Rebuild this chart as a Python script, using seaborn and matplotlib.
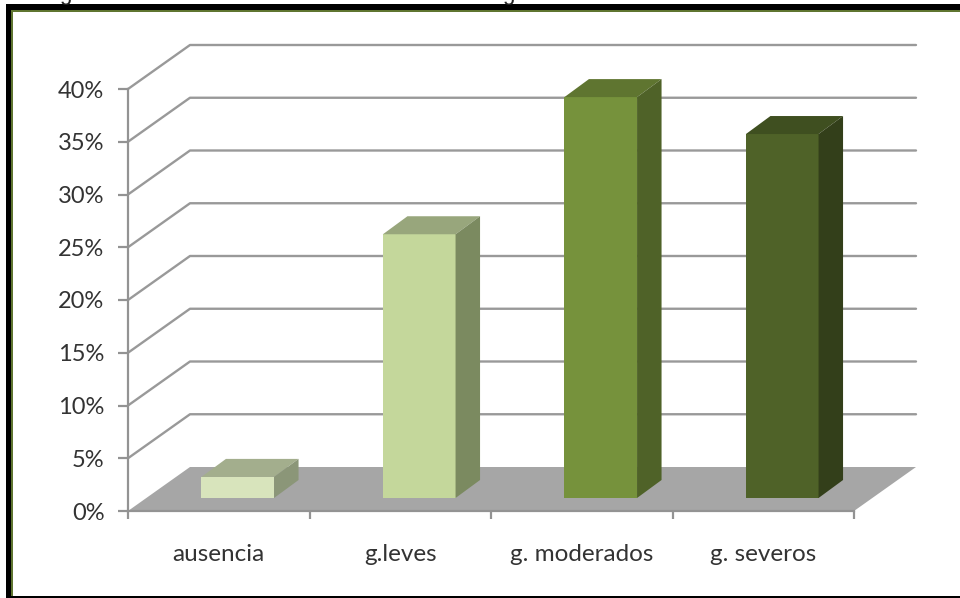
import matplotlib
matplotlib.use("Agg")
import matplotlib.pyplot as plt
import seaborn as sns
from matplotlib.patches import Polygon, Rectangle

categories = ["ausencia", "g.leves", "g. moderados", "g. severos"]
values = [2.0, 25.0, 38.0, 34.5]
y_ticks = [0, 5, 10, 15, 20, 25, 30, 35, 40]

front_colors = ["#d8e4bc", "#c4d79b", "#76923c", "#4f6228"]
top_colors = ["#a3ae8d", "#98a67c", "#5f7530", "#3f4f20"]
side_colors = ["#8b9678", "#7b8a60", "#4f6228", "#333f1a"]

sns.set_theme(style="white")
plt.rcParams["font.family"] = ["Lato", "DejaVu Sans"]

W, H = 960, 598
fig = plt.figure(figsize=(W / 100, H / 100), dpi=100, facecolor="white")


def px_axes(left, top, right, bottom):
    return fig.add_axes([left / W, 1 - bottom / H, (right - left) / W, (bottom - top) / H])


# frame round the picture
bg = fig.add_axes([0, 0, 1, 1])
bg.set_xlim(0, W)
bg.set_ylim(H, 0)
bg.axis("off")
# only the descenders of the caption above the frame are left in the picture
for gx in [65, 508]:
    bg.text(gx, 0, "g", fontsize=16, family="Liberation Sans", ha="center", va="baseline",
            color="#222222", clip_on=True)
bg.add_patch(Rectangle((6, 4), W, 6, color="black", lw=0))
bg.add_patch(Rectangle((6, 4), 5.5, H, color="black", lw=0))
bg.add_patch(Rectangle((11, 9.5), W, 2, color="#5f7530", lw=0))
bg.add_patch(Rectangle((11, 9.5), 1.5, H, color="#5f7530", lw=0))
bg.add_patch(Rectangle((6, 596), W, 3, color="black", lw=0))

# axis plane
ax = px_axes(128, 89, 854, 511)
ax.set_xlim(-0.5, 3.5)
ax.set_ylim(0, 40)
ax.patch.set_alpha(0)
sns.despine(ax=ax, top=True, right=True)
grey = "#939393"
ax.spines["left"].set(color=grey, linewidth=1.6)
ax.spines["bottom"].set(color=grey, linewidth=1.6)

# depth of the wall and of the bars, in data units
wall_dx, wall_dy = 62 / 181.5, 44 / 10.55
bar_dx, bar_dy = 24.5 / 181.5, 18 / 10.55

ax.add_patch(Polygon([(-0.5, 0), (-0.5 + wall_dx, wall_dy), (3.5 + wall_dx, wall_dy), (3.5, 0)],
                     closed=True, color="#a6a6a6", lw=0, clip_on=False, zorder=1))
for t in y_ticks[1:]:
    ax.plot([-0.5, -0.5 + wall_dx, 3.5 + wall_dx], [t, t + wall_dy, t + wall_dy],
            color="#999999", lw=1.7, clip_on=False, zorder=1)

ax.set_yticks(y_ticks)
ax.set_yticklabels([f"{t}%" for t in y_ticks], fontsize=17, color="#333333")
ax.set_xticks([-0.5, 0.5, 1.5, 2.5, 3.5])
ax.set_xticklabels([])
ax.set_xticks(range(4), categories, minor=True, fontsize=17.5, color="#333333")
ax.tick_params(axis="x", which="major", length=6, width=1.6, color=grey, bottom=True)
ax.tick_params(axis="x", which="minor", length=0, pad=24)
ax.tick_params(axis="y", length=7, width=1.6, color=grey, left=True, pad=10)

# bars sit forward of the wall, on the floor
bx = px_axes(128 + 19, 89 - 13, 854 + 19, 511 - 13)
sns.barplot(x=categories, y=values, hue=categories, palette=front_colors, legend=False,
            width=0.4, saturation=1, linewidth=0, ax=bx, zorder=3)
bx.set_xlim(-0.5, 3.5)
bx.set_ylim(0, 40)
bx.axis("off")
bx.patch.set_alpha(0)

for bar, top_c, side_c in zip(list(bx.patches), top_colors, side_colors):
    x0, w, h = bar.get_x(), bar.get_width(), bar.get_height()
    x1 = x0 + w
    bx.add_patch(Polygon([(x0, h), (x0 + bar_dx, h + bar_dy), (x1 + bar_dx, h + bar_dy), (x1, h)],
                         closed=True, color=top_c, lw=0, clip_on=False, zorder=3))
    bx.add_patch(Polygon([(x1, 0), (x1 + bar_dx, bar_dy), (x1 + bar_dx, h + bar_dy), (x1, h)],
                         closed=True, color=side_c, lw=0, clip_on=False, zorder=3))

fig.savefig("out.png", dpi=100)
